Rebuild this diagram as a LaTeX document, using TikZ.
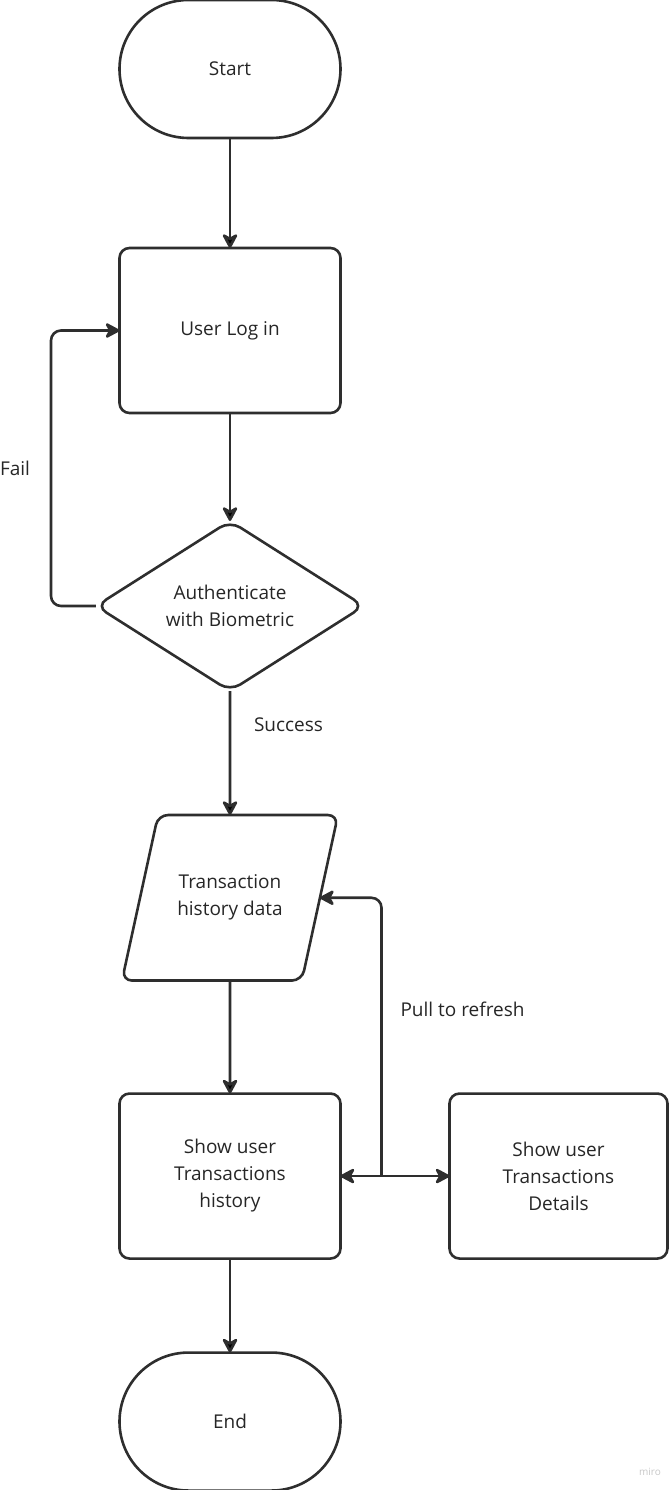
\documentclass[tikz,border=0pt]{standalone}
\usepackage{fontspec}
\setmainfont{Open Sans}
\usetikzlibrary{shapes.geometric, positioning, arrows.meta}

\tikzset{
    every node/.style={font=\fontsize{19}{27}\selectfont, text=black!85, align=center, outer sep=0pt},
    line/.style={draw=black!82, line width=2.6pt},
    terminal/.style={line, rectangle, rounded corners=69pt, minimum width=221pt, minimum height=138pt},
    process/.style={line, rectangle, rounded corners=10pt, minimum width=221pt, minimum height=165pt},
    decision/.style={line, diamond, rounded corners=12pt, minimum width=268pt, minimum height=170pt, inner sep=0pt},
    io/.style={line, trapezium, trapezium stretches body=true, trapezium left angle=77.7, trapezium right angle=102.3,
        rounded corners=10pt, inner ysep=60pt, minimum width=216pt},
    lbl/.style={inner sep=0pt},
    >={Stealth[length=17pt, width=18pt, inset=5pt, round]}
}

\begin{document}
\begin{tikzpicture}[x=1pt, y=1pt]
    \useasboundingbox (-230,69) rectangle (440,-1421);

    \node[terminal] (start) {Start};
    \node[process] (login) [below=110pt of start] {User Log in};
    \node[decision] (auth) [below=108pt of login] {Authenticate\\with Biometric};
    \node[io] (data) [below=124pt of auth] {Transaction\\history data};
    \node[process] (show) [below=113pt of data] {Show user\\Transactions\\history};
    \node[process, minimum width=218pt] (details) [right=109pt of show] {Show user\\Transactions\\Details};
    \node[terminal] (end) [below=94pt of show] {End};
    \coordinate[right=41pt of show.east] (pull);

    \path[->, line]
    (start) edge (login)
    (login) edge (auth)
    (auth) edge node[lbl, pos=0.27, right=24pt] {Success} (data)
    (data) edge (show)
    (show) edge (end)
    ;
    \draw[<->, line] (show) -- (details);

    % loops
    \draw[->, line, rounded corners=10pt] (auth.west) -- ++(-45,0)
        |- node[lbl, pos=0.25, left=21pt] {Fail} (login);
    \draw[->, line, rounded corners=10pt] (pull) |- node[lbl, pos=0.3, right=19pt] {Pull to refresh} (data);

    \node[text=black!22, font=\fontsize{10}{12}\selectfont] (miro) at (420,-1403) {miro};
\end{tikzpicture}
\end{document}
